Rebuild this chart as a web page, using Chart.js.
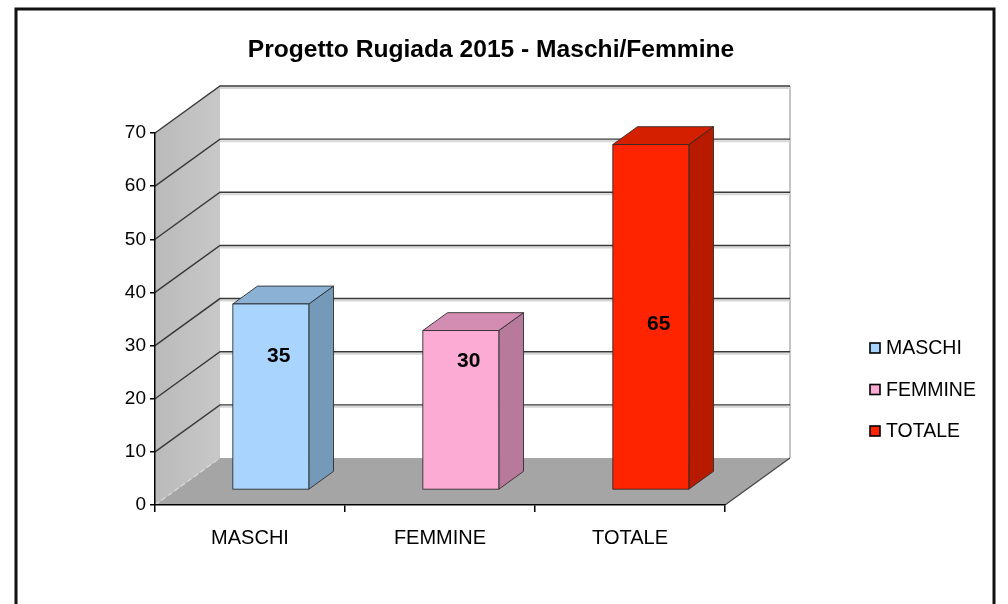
<!DOCTYPE html>
<html>
<head>
<meta charset="utf-8">
<script src="https://cdn.jsdelivr.net/npm/chart.js@4/dist/chart.umd.min.js"></script>
<style>
  html, body { margin: 0; padding: 0; background: #fff; }
  #wrap { width: 1008px; height: 604px; position: relative; }
</style>
</head>
<body>
<div id="wrap"><canvas id="chart" width="1008" height="604"></canvas></div>
<script>
// Progetto Rugiada 2015 - 3D style bar chart

const categories = ['MASCHI', 'FEMMINE', 'TOTALE'];
const values = [35, 30, 65];
const yTicks = [0, 10, 20, 30, 40, 50, 60, 70];

// face colours per bar: front, side, top
const frontColors = ['#a9d4fd', '#fbabd4', '#ff2400'];
const sideColors = ['#7599b9', '#b87a9a', '#b81a00'];
const topColors = ['#8bb2d5', '#d38cb2', '#d42000'];

// depth of the 3d box (full floor depth) and where the bars sit in it
const DX = 65, DY = -47;
const BAR_F0 = 0.32, BAR_F1 = 0.70;

const FONT = '"Liberation Sans", Arial, sans-serif';

function poly(ctx, pts, fill, stroke, lw) {
  ctx.beginPath();
  ctx.moveTo(pts[0][0], pts[0][1]);
  for (let i = 1; i < pts.length; i++) ctx.lineTo(pts[i][0], pts[i][1]);
  ctx.closePath();
  if (fill) { ctx.fillStyle = fill; ctx.fill(); }
  if (stroke) { ctx.strokeStyle = stroke; ctx.lineWidth = lw || 1; ctx.stroke(); }
}

const frame3d = {
  id: 'frame3d',
  beforeDraw(chart) {
    const ctx = chart.ctx;
    const a = chart.chartArea;
    const y = chart.scales.y;
    const top = y.getPixelForValue(70), bot = y.getPixelForValue(0);
    ctx.save();

    // outer frame
    ctx.strokeStyle = '#111';
    ctx.lineWidth = 3;
    ctx.strokeRect(16, 9, 978, 640);

    // left wall
    const g = ctx.createLinearGradient(a.left, 0, a.left + DX, 0);
    g.addColorStop(0, '#bababa');
    g.addColorStop(1, '#c8c8c8');
    poly(ctx, [[a.left, bot], [a.left, top], [a.left + DX, top + DY], [a.left + DX, bot + DY]], g);

    // back wall
    poly(ctx, [[a.left + DX, top + DY], [a.right + DX, top + DY], [a.right + DX, bot + DY], [a.left + DX, bot + DY]], '#fff');
    ctx.strokeStyle = '#b0b0b0';
    ctx.lineWidth = 1.5;
    ctx.beginPath();
    ctx.moveTo(a.right + DX, top + DY);
    ctx.lineTo(a.right + DX, bot + DY);
    ctx.stroke();

    // gridlines on back and left walls
    for (const v of yTicks) {
      if (v === 0) continue;
      const yp = y.getPixelForValue(v);
      ctx.strokeStyle = '#d6d6d6';
      ctx.lineWidth = 2;
      ctx.beginPath();
      ctx.moveTo(a.left + DX, yp + DY + 2);
      ctx.lineTo(a.right + DX, yp + DY + 2);
      ctx.stroke();
      ctx.strokeStyle = '#383838';
      ctx.lineWidth = 1.4;
      ctx.beginPath();
      ctx.moveTo(a.left, yp);
      ctx.lineTo(a.left + DX, yp + DY);
      ctx.lineTo(a.right + DX, yp + DY);
      ctx.stroke();
    }

    // floor
    poly(ctx, [[a.left, bot], [a.right, bot], [a.right + DX, bot + DY], [a.left + DX, bot + DY]], '#a5a5a5');
    ctx.strokeStyle = '#444';
    ctx.lineWidth = 1.2;
    ctx.beginPath();
    ctx.moveTo(a.right, bot);
    ctx.lineTo(a.right + DX, bot + DY);
    ctx.stroke();
    ctx.strokeStyle = '#dcdcdc';
    ctx.setLineDash([5, 3]);
    ctx.beginPath();
    ctx.moveTo(a.left, bot);
    ctx.lineTo(a.left + DX, bot + DY);
    ctx.stroke();
    ctx.setLineDash([]);

    ctx.restore();
  },
  beforeDatasetsDraw(chart) {
    const ctx = chart.ctx;
    const meta = chart.getDatasetMeta(0);
    const x0 = DX * BAR_F0, y0 = DY * BAR_F0;
    const dx = DX * (BAR_F1 - BAR_F0), dy = DY * (BAR_F1 - BAR_F0);
    ctx.save();
    ctx.lineJoin = 'round';
    meta.data.forEach((bar, i) => {
      const p = bar.getProps(['x', 'y', 'base', 'width'], true);
      const l = p.x - p.width / 2 + x0, r = p.x + p.width / 2 + x0;
      const t = p.y + y0, b = p.base + y0;
      const edge = 'rgba(40,40,40,0.85)';
      poly(ctx, [[r, b], [r, t], [r + dx, t + dy], [r + dx, b + dy]], sideColors[i], edge, 1);
      poly(ctx, [[l, t], [r, t], [r + dx, t + dy], [l + dx, t + dy]], topColors[i], edge, 1);
      poly(ctx, [[l, b], [l, t], [r, t], [r, b]], frontColors[i], edge, 1);

      // value label (placed like the original, inside the bar)
      const ly = chart.scales.y.getPixelForValue(values[i] * 0.2 + 21);
      ctx.fillStyle = '#000';
      ctx.font = 'bold 21px ' + FONT;
      ctx.textAlign = 'center';
      ctx.textBaseline = 'middle';
      ctx.fillText(String(values[i]), (l + r) / 2 + 8, ly);
    });
    ctx.restore();
    return false;
  },
  afterDraw(chart) {
    const ctx = chart.ctx;
    ctx.save();
    // title
    ctx.fillStyle = '#000';
    ctx.font = 'bold 24.6px ' + FONT;
    ctx.textAlign = 'center';
    ctx.textBaseline = 'middle';
    ctx.fillText('Progetto Rugiada 2015 - Maschi/Femmine', 491, 50);

    // legend
    ctx.font = '19.5px ' + FONT;
    ctx.textAlign = 'left';
    categories.forEach((c, i) => {
      const cy = 348 + i * 41.5;
      ctx.fillStyle = frontColors[i];
      ctx.fillRect(870, cy - 5, 10, 10);
      ctx.strokeStyle = '#000';
      ctx.lineWidth = 1.6;
      ctx.strokeRect(870, cy - 5, 10, 10);
      ctx.fillStyle = '#000';
      ctx.fillText(c, 886, cy + 1);
    });
    ctx.restore();
  }
};

new Chart(document.getElementById('chart'), {
  type: 'bar',
  data: {
    labels: categories,
    datasets: [{
      data: values,
      backgroundColor: frontColors,
      barPercentage: 0.8,
      categoryPercentage: 0.5
    }]
  },
  options: {
    responsive: false,
    animation: false,
    events: [],
    layout: { padding: { left: 0, top: 133, right: 283, bottom: 0 } },
    plugins: {
      legend: { display: false },
      title: { display: false },
      tooltip: { enabled: false }
    },
    scales: {
      x: {
        grid: { drawOnChartArea: false, drawTicks: true, tickLength: 7, color: '#000', lineWidth: 1.5 },
        border: { color: '#000', width: 1.5 },
        ticks: { color: '#000', padding: 14, font: { family: FONT, size: 20 } },
        afterFit(scale) { scale.height = 99; }
      },
      y: {
        min: 0,
        max: 70,
        afterBuildTicks(scale) { scale.ticks = yTicks.map(v => ({ value: v })); },
        grid: { drawOnChartArea: false, drawTicks: true, tickLength: 5, color: '#000', lineWidth: 1.5 },
        border: { color: '#000', width: 1.5 },
        ticks: { color: '#000', padding: 4, font: { family: FONT, size: 19 } },
        afterFit(scale) { scale.width = 155; }
      }
    }
  },
  plugins: [frame3d]
});
</script>
</body>
</html>
